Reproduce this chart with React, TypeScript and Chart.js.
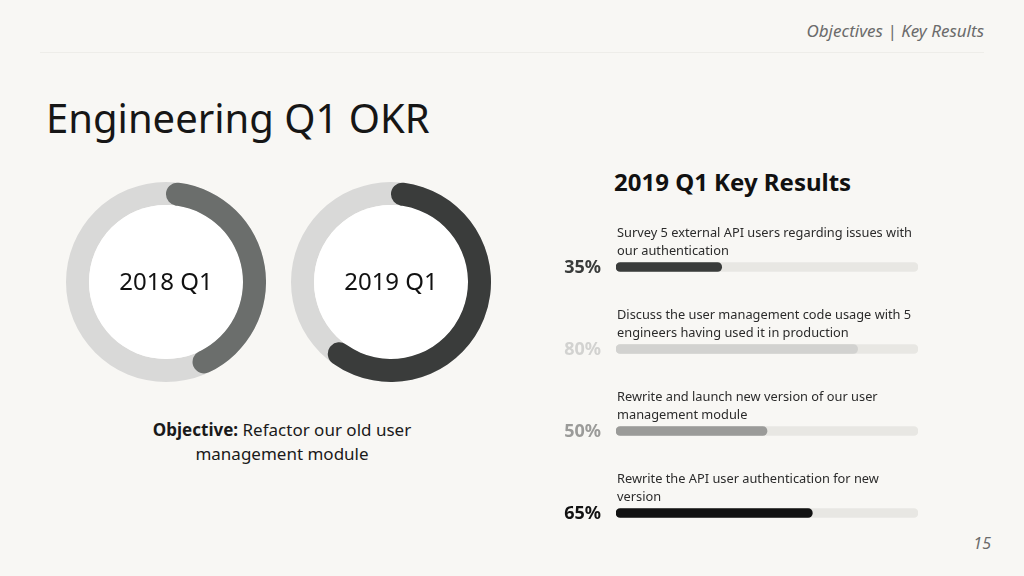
import { Chart, registerables } from "chart.js";
import { useEffect, useRef } from "react";

Chart.register(...registerables);

const FONT = "'Noto Sans', 'Open Sans', sans-serif";

// doughnuts: yearly objective completion
const quarterLabels = ["2018 Q1", "2019 Q1"];
const quarterProgress = [45, 62];
const quarterColors = ["#6b6e6c", "#3a3c3b"];

// key results
const krNames = ["KR1", "KR2", "KR3", "KR4"];
const krLines = [
	["Survey 5 external API users regarding issues with", "our authentication"],
	["Discuss the user management code usage with 5", "engineers having used it in production"],
	["Rewrite and launch new version of our user", "management module"],
	["Rewrite the API user authentication for new", "version"],
];
const krProgress = [35, 80, 50, 65];
const krColors = ["#3a3c3b", "#d2d2d0", "#9b9b99", "#121212"];
const krTrack = [100, 100, 100, 100];

function Ring({ label, value, color, left, top }: { label: string, value: number, color: string, left: number, top: number }) {
	const ref = useRef<HTMLCanvasElement>(null);
	useEffect(() => {
		if (ref.current == null) {
			return;
		}
		// grey track, white centre and the quarter label, drawn under the arc
		const ringPlugin = {
			id: 'ring',
			beforeDatasetsDraw(chart: any) {
				const arc = chart.getDatasetMeta(0).data[0];
				if (!arc) return;
				const { x, y, innerRadius, outerRadius } = arc.getProps(['x', 'y', 'innerRadius', 'outerRadius'], true);
				const ctx = chart.ctx;
				ctx.save();
				ctx.beginPath();
				ctx.arc(x, y, outerRadius, 0, Math.PI * 2);
				ctx.arc(x, y, innerRadius, 0, Math.PI * 2, true);
				ctx.fillStyle = '#d9d9d8';
				ctx.fill();
				ctx.beginPath();
				ctx.arc(x, y, innerRadius, 0, Math.PI * 2);
				ctx.fillStyle = '#ffffff';
				ctx.fill();
				ctx.fillStyle = '#111111';
				ctx.font = `24px ${FONT}`;
				ctx.textAlign = 'center';
				ctx.textBaseline = 'middle';
				ctx.fillText(label, x, y + 1);
				ctx.restore();
			}
		};
		const chart = new Chart(ref.current, {
			type: 'doughnut',
			data: {
				labels: ['done', 'left'],
				datasets: [{
					data: [value, 100 - value],
					backgroundColor: [color, 'rgba(0,0,0,0)'],
					borderWidth: 0,
					borderRadius: (c: any) => c.dataIndex === 0 ? 12 : 0,
				}]
			},
			options: {
				animation: false,
				responsive: true,
				maintainAspectRatio: false,
				cutout: '77%',
				events: [],
				plugins: {
					legend: { display: false },
					tooltip: { enabled: false },
				},
			},
			plugins: [ringPlugin],
		} as any);
		return () => {
			chart.destroy();
		};
	}, []);

	return (
		<div style={{ position: 'absolute', left, top, width: 200, height: 200 }}>
			<canvas ref={ref} />
		</div>
	);
}

function KeyResults() {
	const ref = useRef<HTMLCanvasElement>(null);
	useEffect(() => {
		if (ref.current == null) {
			return;
		}
		const labelPlugin = {
			id: 'krLabels',
			afterDatasetsDraw(chart: any) {
				const ctx = chart.ctx;
				const left = chart.chartArea.left;
				const meta = chart.getDatasetMeta(0);
				ctx.save();
				meta.data.forEach((bar: any, i: number) => {
					const y = bar.y;
					ctx.textBaseline = 'middle';
					ctx.textAlign = 'left';
					ctx.fillStyle = '#2b2b2b';
					ctx.font = `12.8px ${FONT}`;
					krLines[i].forEach((line, j) => {
						ctx.fillText(line, left + 1, y - 34 + j * 18);
					});
					ctx.textAlign = 'right';
					ctx.fillStyle = krColors[i];
					ctx.font = `bold 18px ${FONT}`;
					ctx.fillText(`${krProgress[i]}%`, left - 15, y + 1);
				});
				ctx.restore();
			}
		};
		const chart = new Chart(ref.current, {
			type: 'bar',
			data: {
				labels: krNames,
				datasets: [
					{
						label: 'progress',
						data: krProgress,
						backgroundColor: krColors,
						order: 0,
					},
					{
						label: 'track',
						data: krTrack,
						backgroundColor: '#e8e7e3',
						order: 1,
					},
				]
			},
			options: {
				animation: false,
				responsive: true,
				maintainAspectRatio: false,
				indexAxis: 'y',
				events: [],
				datasets: {
					bar: {
						barThickness: 9,
						borderRadius: 5,
						borderSkipped: false,
						grouped: false,
					}
				},
				layout: {
					padding: { left: 76, right: 42, top: 26, bottom: 20 }
				},
				plugins: {
					legend: { display: false },
					tooltip: { enabled: false },
				},
				scales: {
					x: { display: false, min: 0, max: 100 },
					y: { display: false },
				}
			},
			plugins: [labelPlugin],
		} as any);
		return () => {
			chart.destroy();
		};
	}, []);

	return (
		<div style={{ position: 'absolute', left: 540, top: 200, width: 420, height: 374 }}>
			<canvas ref={ref} />
		</div>
	);
}

export default function App() {
	return (
		<div style={{ position: 'absolute', left: 0, top: 0, width: 1024, height: 576, background: '#f8f7f4', fontFamily: FONT, overflow: 'hidden' }}>
			<div style={{ position: 'absolute', right: 40, top: 19, fontSize: 17, lineHeight: '24px', fontStyle: 'italic', color: '#6b6b6b' }}>
				Objectives | Key Results
			</div>
			<div style={{ position: 'absolute', left: 40, top: 52, width: 944, height: 1, background: '#eeede9' }} />
			<div style={{ position: 'absolute', left: 46, top: 94, fontSize: 40, lineHeight: '48px', color: '#161616' }}>
				Engineering Q1 OKR
			</div>
			<Ring label={quarterLabels[0]} value={quarterProgress[0]} color={quarterColors[0]} left={66} top={182} />
			<Ring label={quarterLabels[1]} value={quarterProgress[1]} color={quarterColors[1]} left={291} top={182} />
			<div style={{ position: 'absolute', left: 132, top: 418, width: 300, textAlign: 'center', fontSize: 17, lineHeight: '24px', color: '#1a1a1a' }}>
				<b>Objective:</b> Refactor our old user management module
			</div>
			<div style={{ position: 'absolute', left: 614, top: 167, fontSize: 24, lineHeight: '30px', fontWeight: 'bold', color: '#111111' }}>
				2019 Q1 Key Results
			</div>
			<KeyResults />
			<div style={{ position: 'absolute', right: 33, top: 531, fontSize: 16, lineHeight: '24px', fontStyle: 'italic', color: '#6b6b6b' }}>
				15
			</div>
		</div>
	);
}
